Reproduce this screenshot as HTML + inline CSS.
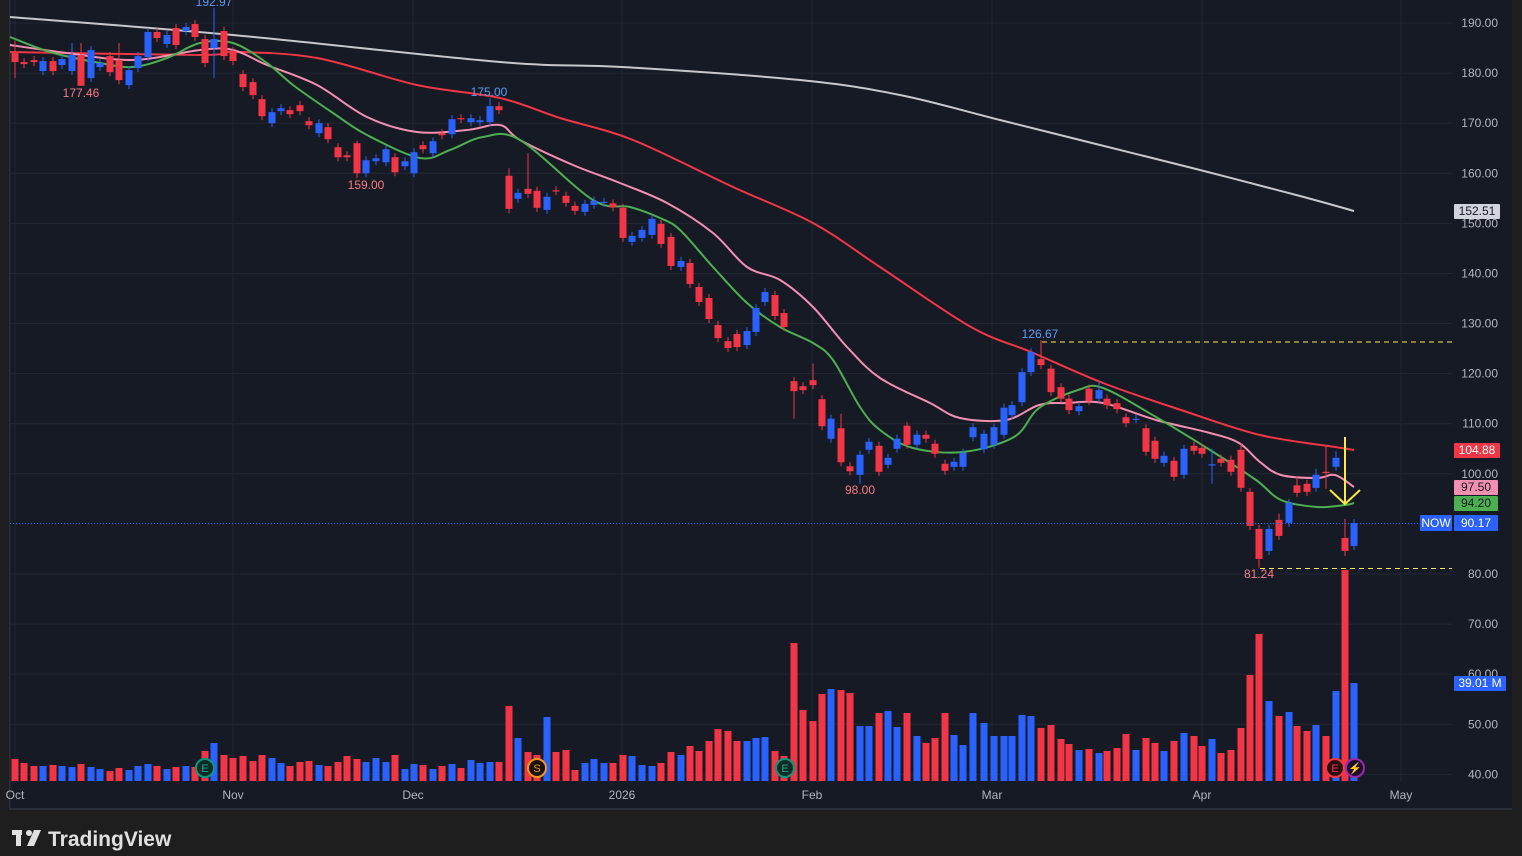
<!DOCTYPE html>
<html><head><meta charset="utf-8">
<style>
html,body{margin:0;padding:0;background:#1e1e1e;width:1522px;height:856px;overflow:hidden}
svg{position:absolute;left:0;top:0}
text{font-family:"Liberation Sans",sans-serif}
</style></head>
<body>
<svg id="s" width="1522" height="856" xmlns="http://www.w3.org/2000/svg"></svg>
<script>
const S=document.getElementById('s');
let h='';
const Y=p=>23+(190-p)*5.009;
h+='<rect x="0" y="0" width="1522" height="856" fill="#1e1e1e"/>';
h+='<rect x="9" y="0" width="1503" height="809" fill="#161a25"/>';
h+='<rect x="9" y="808" width="1503" height="2" fill="#2a2e39"/>';
h+='<rect x="9" y="0" width="1.5" height="809" fill="#2a2e39"/>';
for(let p=190;p>=40;p-=10){h+=`<line x1="10" x2="1452" y1="${Y(p)}" y2="${Y(p)}" stroke="#232733" stroke-width="1"/>`;}
[15,233,413,622,812,992,1202,1401].forEach(x=>{h+=`<line x1="${x}" x2="${x}" y1="0" y2="782" stroke="#232733" stroke-width="1"/>`;});
function pl(P,c,w){
 let d=`M${P[0][0]},${P[0][1]}`;
 for(let i=0;i<P.length-1;i++){
  const p0=P[i-1]||P[i],p1=P[i],p2=P[i+1],p3=P[i+2]||p2;
  const c1=[p1[0]+(p2[0]-p0[0])/6,p1[1]+(p2[1]-p0[1])/6],c2=[p2[0]-(p3[0]-p1[0])/6,p2[1]-(p3[1]-p1[1])/6];
  d+=` C${c1[0]},${c1[1]} ${c2[0]},${c2[1]} ${p2[0]},${p2[1]}`;
 }
 h+=`<path fill="none" stroke="${c}" stroke-width="${w}" d="${d}"/>`;}
pl([[10,17],[233,35],[500,62],[622,67],[800,80],[900,95],[1000,120],[1100,145],[1200,170],[1300,196],[1354,211]],'#c8c8cc',2);
pl([[10,52],[200,55],[233,52],[317,58],[417,85],[500,98],[560,118],[633,140],[733,187],[813,223],[880,267],[971,327],[1031,352],[1103,383],[1181,410],[1260,435],[1335,447],[1354,450]],'#f23645',2);
pl([[10,45],[67,53],[133,60],[200,50],[233,50],[267,65],[317,85],[367,117],[417,132],[467,130],[500,125],[520,140],[573,165],[620,183],[667,203],[713,233],[747,267],[780,280],[813,307],[847,347],[880,378],[930,403],[960,418],[1006,420],[1039,405],[1067,403],[1103,403],[1156,420],[1210,433],[1239,443],[1260,462],[1281,475],[1317,478],[1335,475],[1354,487]],'#f48fb1',2);
pl([[10,37],[50,52],[100,63],[133,67],[167,58],[200,43],[233,43],[267,63],[293,85],[333,113],[367,135],[420,158],[450,150],[483,137],[520,140],[593,200],[630,207],[660,218],[680,230],[713,267],[747,303],[780,327],[813,343],[833,360],[860,407],[880,430],[913,448],[963,452],[1014,437],[1039,408],[1078,390],[1103,388],[1156,417],[1210,450],[1256,480],[1281,500],[1317,507],[1345,505],[1354,503]],'#4caf50',2);
const C=[[15,184,182.2,186.5,179,22],[24,182.2,181.8,0,0,18],[34,182.6,182.2,0,0,15],[43,180.4,182.4,0,0,15],[53,182.4,180.4,0,0,16],[62,181.6,182.8,0,0,15],[72,180.4,183.6,186,0,14],[81,183.6,177.46,186,177.46,17],[91,179,184.6,0,0,14],[100,181.2,182,0,0,12],[110,183.4,180.2,0,0,10],[119,182.6,178.6,186,0,13],[129,177.6,180.6,0,0,11],[138,181,183.4,0,0,15],[148,183.2,188.2,0,0,17],[157,188.2,187,0,0,15],[167,185.8,187.6,0,0,12],[176,189,185.6,0,0,14],[186,188.4,189.2,0,0,15],[195,189.8,187.2,0,0,14],[205,186.8,182,0,0,30],[214,185,186.8,192.97,179,38],[224,188.4,183.4,0,0,26],[233,184.4,182.4,0,0,23],[243,179.8,177.2,0,0,25],[253,178.2,175.6,0,0,20],[262,174.8,171.4,0,0,26],[272,170,172.2,0,0,23],[281,172.4,173,0,0,18],[290,172.6,171.8,0,0,15],[300,173.6,172.4,0,0,19],[309,170.4,169.6,0,0,20],[319,168,170,0,0,16],[328,169.2,166.8,0,0,15],[338,165.2,163.2,0,0,19],[347,163.6,163.2,0,0,25],[357,166,160,166.5,159,22],[366,160,162.6,0,0,19],[376,162.4,163,0,0,23],[386,162.2,164.8,0,0,19],[395,163.2,160.2,0,0,26],[405,161.4,162.4,0,0,12],[414,160,164.2,0,0,17],[423,165.6,164.8,0,0,16],[433,164,166.4,0,0,12],[442,168,167.6,0,0,15],[452,167.8,170.8,0,0,17],[461,171,170.8,0,0,13],[471,170.2,171,0,0,21],[480,170.2,170.6,0,0,18],[490,170.2,173.4,175,0,19],[499,173.4,172.6,0,0,19],[509,159.5,152.9,161,152,75],[518,154.9,156.1,0,0,43],[528,156.9,155.9,164,0,29],[537,156.5,153.1,0,0,26],[547,152.7,155.3,0,0,64],[556,156.6,156.4,0,0,29],[566,155.5,154.1,0,0,31],[575,153.5,152.5,0,0,11],[585,152.3,153.9,0,0,18],[594,153.7,154.5,0,0,22],[604,154.1,154.3,0,0,18],[613,154,153.2,0,0,18],[623,153.1,147.1,0,0,26],[632,146.3,147.5,0,0,25],[642,147.1,148.7,0,0,16],[652,147.7,150.9,0,0,15],[661,149.9,145.9,0,0,18],[671,147.3,141.5,0,0,29],[681,141.3,142.5,0,0,26],[690,142.1,137.9,0,0,35],[699,137.3,134.3,0,0,30],[709,135.1,130.9,0,0,40],[718,129.7,127.1,0,0,52],[728,126.5,125.1,0,0,50],[737,127.9,125.3,0,0,40],[747,125.7,128.5,0,0,40],[756,128.3,133.1,0,0,43],[765,134.3,136.3,0,0,44],[775,135.7,131.5,0,0,30],[784,132.1,129.3,0,0,25],[794,118.5,116.5,0,111,138],[803,117.5,116.7,0,0,71],[813,118.7,117.7,122,0,60],[822,114.9,109.5,0,0,87],[831,107,111,0,0,92],[841,109.1,102.3,112,0,91],[850,101.5,100.5,0,0,88],[860,99.8,103.8,0,98,55],[869,104.8,106.4,0,0,55],[879,105.6,100.4,0,0,68],[888,101.8,103.2,0,0,70],[897,105,107,0,0,54],[907,109.6,105.8,0,0,68],[917,105.8,107.8,0,0,45],[926,107.8,107,0,0,38],[935,106,104,0,0,43],[945,102,100.6,0,0,68],[954,101.4,102.4,0,0,46],[963,101.4,104.2,0,0,36],[973,107.3,109.3,0,0,68],[984,104.9,108,0,0,58],[994,105.8,109.3,0,0,45],[1004,107.8,113.2,0,0,45],[1012,111.7,113.7,0,0,45],[1022,114.3,120.3,0,0,66],[1031,120.3,124.3,0,0,65],[1041,122.9,121.7,126.67,0,53],[1051,121,116.3,0,0,56],[1061,117.3,115,0,0,42],[1069,115,112.7,0,0,37],[1079,112.5,113.5,0,0,31],[1089,117,114.5,0,0,32],[1099,115,116.7,118.5,0,28],[1107,115,113.7,0,0,30],[1117,114.1,112.9,0,0,33],[1126,111.3,110.1,0,0,47],[1136,110.9,111,0,0,31],[1146,109.1,104.4,0,0,43],[1155,106.6,103,0,0,38],[1164,102.2,103.6,0,0,30],[1174,102.6,99.4,0,0,40],[1184,99.8,105,0,0,48],[1194,105.6,104.6,0,0,45],[1202,105.2,104,0,0,35],[1212,101.8,101.9,105,98,42],[1221,103,102.2,0,0,28],[1231,102.8,100.4,0,0,31],[1241,104.8,97.2,106,0,53],[1250,96.4,89.6,0,0,106],[1259,89,83,0,81.24,147],[1269,84.6,89,0,0,80],[1279,90.8,87.6,92,0,65],[1289,90.2,94.2,0,0,69],[1297,97.7,96.2,99.5,0,55],[1307,98,96.4,0,0,50],[1316,97.2,99.8,101,0,56],[1326,100.4,100.2,105.5,97,45],[1336,101.4,103.2,104.5,0,90],[1345,87.2,84.6,91,83.6,211],[1354,85.6,90.17,0,0,98]];
C.forEach(c=>{const [x,o,cl,hh,ll,v]=c;const col=cl>=o?'#2962ff':'#f23645';
 h+=`<rect x="${x-3.5}" y="${781-v}" width="7" height="${v}" fill="${col}"/>`;});
C.forEach(c=>{const [x,o,cl,hh,ll]=c;const col=cl>=o?'#2962ff':'#f23645';
 const hi=hh||Math.max(o,cl)+0.8, lo=ll||Math.min(o,cl)-0.8;
 h+=`<line x1="${x}" x2="${x}" y1="${Y(hi)}" y2="${Y(lo)}" stroke="${col}" stroke-width="1"/>`;
 const t=Y(Math.max(o,cl)),b=Y(Math.min(o,cl));
 h+=`<rect x="${x-3.5}" y="${t}" width="7" height="${Math.max(1.2,b-t)}" fill="${col}"/>`;});
h+=`<line x1="10" x2="1420" y1="523.5" y2="523.5" stroke="#2962ff" stroke-width="1" stroke-dasharray="1,2"/>`;
h+=`<line x1="1042" x2="1452" y1="342" y2="342" stroke="#ffeb3b" stroke-width="1" stroke-dasharray="5,4"/>`;
h+=`<line x1="1260" x2="1452" y1="568.5" y2="568.5" stroke="#ffeb3b" stroke-width="1" stroke-dasharray="5,4"/>`;
h+=`<line x1="1345" x2="1345" y1="437" y2="503" stroke="#ffeb3b" stroke-width="2"/>`;
h+=`<polyline points="1330,490 1345,504 1360,490" fill="none" stroke="#ffeb3b" stroke-width="2"/>`;
function t(x,y,s,c,a,sz,fw){h+=`<text x="${x}" y="${y}" fill="${c}" font-size="${sz||12}" text-anchor="${a||'middle'}" font-weight="${fw||'normal'}">${s}</text>`;}
t(214,6,'192.97','#5b9cf6');t(81,97,'177.46','#f77c80');t(366,189,'159.00','#f77c80');t(489,96,'175.00','#5b9cf6');
t(860,494,'98.00','#f77c80');t(1040,338,'126.67','#5b9cf6');t(1259,578,'81.24','#f77c80');
for(let p=190;p>=40;p-=10){t(1498,Y(p)+4,p.toFixed(2),'#b2b5be','end');}
function box(x,y,w,hh,bg,s,c){h+=`<rect x="${x}" y="${y}" width="${w}" height="${hh}" fill="${bg}" rx="1"/>`;t(x+w/2,y+hh-4,s,c);}
box(1454,204,46,15,'#d1d4dc','152.51','#131722');
box(1454,443,46,15,'#f23645','104.88','#ffffff');
box(1454,480,44,15,'#f48fb1','97.50','#131722');
box(1454,496,44,15,'#4caf50','94.20','#131722');
box(1420,515,32,16,'#2962ff','NOW','#ffffff');
box(1454,515,44,16,'#2962ff','90.17','#ffffff');
box(1454,676,52,15,'#2962ff','39.01 M','#ffffff');
[[15,'Oct'],[233,'Nov'],[413,'Dec'],[622,'2026'],[812,'Feb'],[992,'Mar'],[1202,'Apr'],[1401,'May']].forEach(a=>t(a[0],799,a[1],'#b2b5be'));
function mk(x,bg,st,s,c){h+=`<circle cx="${x}" cy="768" r="9" fill="${bg}" stroke="${st}" stroke-width="2"/>`;t(x,772,s,c,'middle',11);}
mk(205,'#0b2b24','#089981','E','#26a69a');
mk(537,'#1a1200','#f7931a','S','#f7931a');
mk(785,'#0b2b24','#089981','E','#26a69a');
mk(1335,'#2b0b10','#f23645','E','#f23645');
mk(1355,'#1e0b2b','#9c27b0','⚡','#ce93d8');
h+=`<rect x="12" y="830" width="10" height="5" fill="#e0e0e0"/><rect x="16" y="830" width="5" height="16" fill="#e0e0e0"/><circle cx="29" cy="833" r="3" fill="#e0e0e0"/><polygon points="34,830 41,830 34,846 27,846" fill="#e0e0e0"/>`;
t(48,846,'TradingView','#e0e0e0','start',21,'bold');
S.innerHTML=h;
</script>
</body></html>
